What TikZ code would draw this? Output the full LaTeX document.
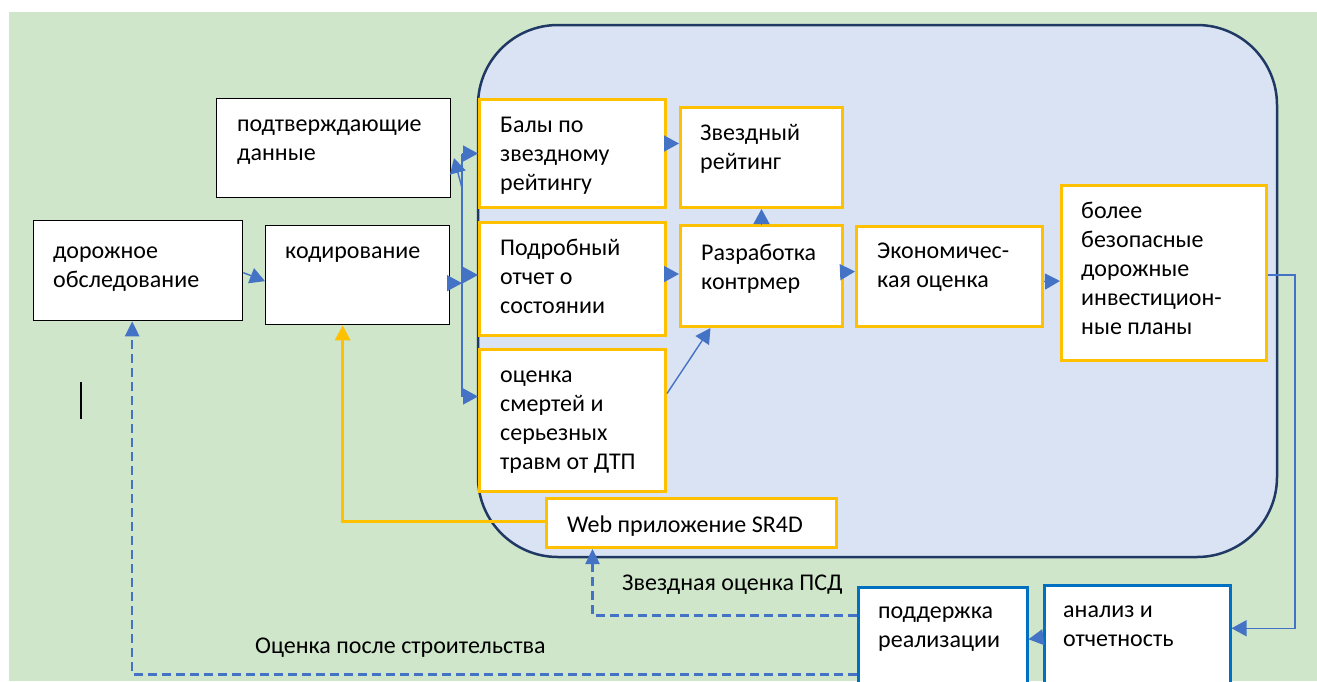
\documentclass[tikz,border=0pt]{standalone}
\usepackage{fontspec}
\setmainfont{Carlito}
\usetikzlibrary{arrows.meta}

\definecolor{bggreen}{RGB}{207,230,203}
\definecolor{panelblue}{RGB}{218,227,243}
\definecolor{panelnavy}{RGB}{32,56,100}
\definecolor{boxorange}{RGB}{255,192,0}
\definecolor{boxblue}{RGB}{0,112,192}
\definecolor{connblue}{RGB}{68,114,196}

\begin{document}
\begin{tikzpicture}[x=1pt,y=-1pt,
	box/.style={draw=black, line width=1.3pt, fill=white, anchor=north west, inner sep=0pt},
	obox/.style={draw=boxorange, line width=3pt, fill=white, anchor=north west, inner sep=0pt},
	bbox/.style={draw=boxblue, line width=2.5pt, fill=white, anchor=north west, inner sep=0pt},
	txt/.style={anchor=base west, align=left, inner sep=0pt, font=\fontsize{24}{29}\selectfont},
	conn/.style={draw=connblue, line width=1.4pt, -{Triangle[length=15pt,width=16pt]}},
	dconn/.style={draw=connblue, line width=2.5pt, dash pattern=on 9pt off 5pt, -{Triangle[length=15pt,width=14pt]}},
	yconn/.style={draw=boxorange, line width=3pt, -{Triangle[length=15pt,width=15pt]}}]
		\useasboundingbox (0, 0) rectangle (1317, 681);
		\clip (0, 0) rectangle (1317, 681);
		\fill[white] (0, 0) rectangle (1317, 681);
		\fill[bggreen] (9, 12) rectangle (1317, 681);
		\filldraw[fill=panelblue, draw=panelnavy, line width=2.5pt, rounded corners=80pt] (478, 25) rectangle (1277, 557);
		\draw[line width=1.5pt] (81, 382) -- (81, 419);

		\node[box, minimum width=209, minimum height=100] (dor) at (33, 220) {};
		\node[box, minimum width=184, minimum height=99] (kod) at (265, 225) {};
		\node[box, minimum width=234, minimum height=99] (podt) at (216, 98) {};
		\node[obox, minimum width=186, minimum height=108] (baly) at (478, 98) {};
		\node[obox, minimum width=186, minimum height=113] (podr) at (478, 221) {};
		\node[obox, minimum width=186, minimum height=142] (ocen) at (478, 348) {};
		\node[obox, minimum width=162, minimum height=100] (zvezd) at (679, 106) {};
		\node[obox, minimum width=162, minimum height=101] (razr) at (679, 224) {};
		\node[obox, minimum width=186, minimum height=100] (econ) at (855, 225) {};
		\node[obox, minimum width=205, minimum height=175] (bolee) at (1060, 184) {};
		\node[obox, minimum width=290, minimum height=49] (web) at (545, 497) {};
		\node[bbox, minimum width=169, minimum height=120] (podd) at (857, 586) {};
		\node[bbox, minimum width=186, minimum height=120] (anal) at (1043, 584) {};

		\node[txt] (dor-t) at (53, 287) {дорожное\\обследование};
		\node[txt] (kod-t) at (285, 258) {кодирование};
		\node[txt] (podt-t) at (237, 160) {подтверждающие\\данные};
		\node[txt] (baly-t) at (500, 190) {Балы по\\звездному\\рейтингу};
		\node[txt] (podr-t) at (500, 313) {Подробный\\отчет о\\состоянии};
		\node[txt] (ocen-t) at (500, 469) {оценка\\смертей и\\серьезных\\травм от ДТП};
		\node[txt] (zvezd-t) at (700, 169) {Звездный\\рейтинг};
		\node[txt] (razr-t) at (701, 289) {Разработка\\контрмер};
		\node[txt] (econ-t) at (877, 287) {Экономичес-\\кая оценка};
		\node[txt] (bolee-t) at (1081, 334) {более\\безопасные\\дорожные\\инвестицион-\\ные планы};
		\node[txt] (web-t) at (567, 532) {Web приложение SR4D};
		\node[txt] (podd-t) at (878, 647) {поддержка\\реализации};
		\node[txt] (anal-t) at (1063, 646) {анализ и\\отчетность};
		\node[txt] (psd-t) at (622, 590) {Звездная оценка ПСД};
		\node[txt] (post-t) at (255, 653) {Оценка после строительства};

		\coordinate (bus) at (462, 0);
		\coordinate (bus-up) at (454, 158);
		\draw[connblue, line width=1.8pt] (baly.west -| bus) -- ([shift={(0,-24)}]ocen.west -| bus);
		\draw[conn] (baly.west -| bus) -- (baly.west);
		\draw[conn] ([shift={(0,-4)}]podr.west -| bus) -- ([shift={(0,-4)}]podr.west);
		\draw[conn] ([shift={(0,-24)}]ocen.west -| bus) -- ([shift={(0,-24)}]ocen.west);
		\draw[conn] ([shift={(0,8)}]kod.east) -- ([shift={(0,8)}]kod.east -| bus);
		\draw[conn] ([shift={(0,30)}]bus-up -| bus) -- (bus-up);
		\draw[conn] ([shift={(0,2)}]dor.east) -- ([shift={(0,6)}]kod.west);

		\draw[conn] ([shift={(0,-10)}]baly.east) -- ([shift={(0,-14)}]zvezd.west);
		\draw[conn] ([shift={(0,-5)}]podr.east) -- ([shift={(0,-2)}]razr.west);
		\draw[conn] (razr.north) -- (zvezd.south);
		\draw[conn] ([shift={(0,-27)}]ocen.east) -- ([shift={(-51,0)}]razr.south);
		\draw[conn] ([shift={(0,-4)}]razr.east) -- ([shift={(0,-5)}]econ.west);
		\draw[conn] ([shift={(0,5)}]econ.east) -- ([shift={(0,8)}]bolee.west);
		\draw[conn] ([shift={(0,2)}]bolee.east) -| (1295, 400) |- ([shift={(0,-17)}]anal.east);
		\draw[conn] ([shift={(0,-8)}]anal.west) -- ([shift={(0,-8)}]podd.east);

		\draw[dconn] ([shift={(0,-32)}]podd.west) -| ([shift={(-99,0)}]web.south);
		\draw[dconn] ([shift={(0,27)}]podd.west) -| ([shift={(-6,0)}]dor.south);
		\draw[yconn] ([shift={(0,-2)}]web.west) -| ([shift={(-15,0)}]kod.south);
	\end{tikzpicture}
\end{document}
